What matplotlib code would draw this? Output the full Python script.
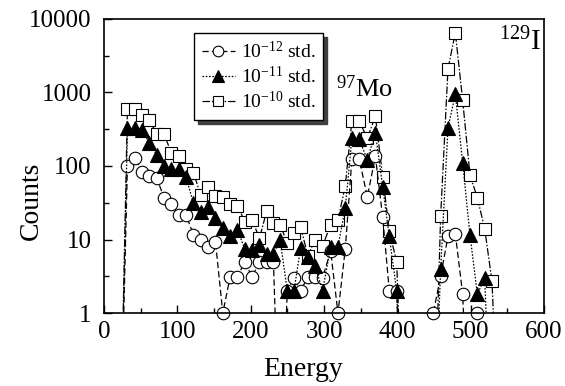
import numpy as np
import matplotlib
matplotlib.use("Agg")
import matplotlib.pyplot as plt
from matplotlib.ticker import FixedLocator, NullFormatter

plt.rcParams['font.family'] = ['Liberation Serif', 'DejaVu Serif']
plt.rcParams['mathtext.fontset'] = 'custom'
plt.rcParams['mathtext.rm'] = 'Liberation Serif'
plt.rcParams['mathtext.it'] = 'Liberation Serif:italic'

# Energy channels and counts for the three standards
energy = [22, 32, 42, 52, 62, 72, 82, 92, 102, 112, 122, 132, 142, 152, 162,
          172, 182, 192, 202, 212, 222, 231, 240, 250, 259, 268, 278, 288,
          298, 309, 319, 329, 338, 348, 359, 370, 380, 389, 399, 409,
          439, 449, 459, 469, 479, 489, 499, 509, 519, 529, 539]

counts_1e12 = [0, 100, 130, 84, 72, 68, 37, 30, 21.5, 21.5, 11.5, 10, 8, 9.3, 1,
               3.1, 3.1, 5, 3.1, 5, 5, 5, 0, 2, 3, 2, 3.1, 3.1,
               3, 7, 1, 7.5, 125, 125, 38, 135, 20, 2, 2, 0,
               0, 1, 3.2, 11, 12, 1.8, 0, 1, 0, 0, 0]

counts_1e11 = [0, 326, 326, 309, 204, 141, 100, 90, 90, 70, 31, 24, 28, 19.4, 14.2,
               11, 13.5, 7.4, 7.2, 8.4, 6.3, 6.3, 10, 2, 2, 7.6, 5.8, 4.3,
               2, 8, 8, 27, 238, 230, 122, 285, 52, 11, 2, 0,
               0, 0, 4, 330, 950, 110, 11.5, 1.8, 3, 0, 0]

counts_1e10 = [0, 590, 590, 494, 422, 270, 270, 149, 137, 90, 81, 40, 52, 39, 38,
               30, 29, 17.5, 18.4, 10.4, 24.7, 17, 16, 8.9, 12.2, 15, 6, 10,
               8.1, 16, 18.4, 54, 410, 410, 238, 478, 71, 13, 5, 0,
               0, 0, 21, 2100, 6500, 780, 75, 37, 14, 2.7, 0]

labels = [r'$10^{-12}$ std.', r'$10^{-11}$ std.', r'$10^{-10}$ std.']
x_ticks = [0, 100, 200, 300, 400, 500, 600]
y_ticks = [1, 10, 100, 1000, 10000]
y_tick_labels = ['1', '10', '100', '1000', '10000']

fig = plt.figure(figsize=(5.65, 3.86), dpi=100)
ax = fig.add_axes([0.184, 0.189, 0.779, 0.762])
ax.set_yscale('log')

e = np.array(energy, dtype=float)
FLOOR = 0.01  # zero counts drop the trace below the axis

series = [
    (counts_1e10, dict(marker='s', mfc='white', mec='black', ms=8.5,
                       ls=(0, (6, 1.5, 1.2, 1.5))), 1),
    (counts_1e12, dict(marker='o', mfc='white', mec='black', ms=9,
                       ls=(0, (5, 2.5))), 2),
    (counts_1e11, dict(marker='^', mfc='black', mec='black', ms=9.5,
                       ls=(0, (1.3, 1.3))), 3),
]
handles = {}
for counts, style, z in series:
    c = np.array(counts, dtype=float)
    ax.plot(e, np.where(c > 0, c, FLOOR), color='black', lw=0.9,
            ls=style['ls'], zorder=z)
    m = c > 0
    ax.plot(e[m], c[m], ls='none', marker=style['marker'], mfc=style['mfc'],
            mec=style['mec'], ms=style['ms'], mew=0.8, zorder=z + 0.5,
            clip_on=False)
    h, = ax.plot([], [], color='black', lw=0.9, ls=style['ls'],
                 marker=style['marker'], mfc=style['mfc'], mec=style['mec'],
                 ms=style['ms'] * 0.85, mew=0.8)
    handles[style['marker']] = h

ax.set_xlim(0, 600)
ax.set_ylim(1, 10000)
ax.set_xticks(x_ticks)
ax.xaxis.set_minor_locator(FixedLocator([50, 150, 250, 350, 450, 550]))
ax.set_yticks(y_ticks)
ax.set_yticklabels(y_tick_labels)
ax.yaxis.set_minor_locator(FixedLocator([10 ** (k + 0.5) for k in range(4)]))
ax.yaxis.set_minor_formatter(NullFormatter())
ax.tick_params(which='both', direction='in', top=False, right=False,
               labelsize=18, width=1)
ax.tick_params(axis='y', which='major', length=6, pad=9)
ax.tick_params(axis='x', which='major', length=6, pad=6)
ax.tick_params(which='minor', length=3.5)
for s in ax.spines.values():
    s.set_linewidth(1.2)

ax.set_xlabel('Energy', fontsize=20)
ax.set_ylabel('Counts', fontsize=20)
ax.xaxis.set_label_coords(0.452, -0.15)
ax.yaxis.set_label_coords(-0.136, 0.38)

ax.text(316, 870, r'$^{97}$Mo', fontsize=19, ha='left', va='baseline')
ax.text(538, 3790, r'$^{129}$I', fontsize=21, ha='left', va='baseline')

leg = ax.legend([handles['o'], handles['^'], handles['s']], labels,
                loc='upper left', bbox_to_anchor=(0.205, 0.952),
                fontsize=14, frameon=True, fancybox=False, edgecolor='black',
                handlelength=1.7, handletextpad=0.3, borderpad=0.4,
                labelspacing=0.2, borderaxespad=0,
                shadow={'ox': 3, 'oy': -3, 'color': '0.25', 'alpha': 1})
leg.get_frame().set_linewidth(1.0)

fig.savefig('out.png', dpi=100)
